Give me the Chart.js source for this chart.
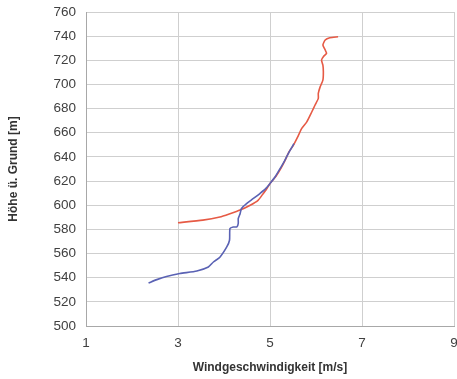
<!DOCTYPE html>
<html>
<head>
<meta charset="utf-8">
<script src="https://cdn.jsdelivr.net/npm/chart.js@4/dist/chart.umd.min.js"></script>
<style>
  html, body { margin: 0; padding: 0; background: #ffffff; }
  #wrap { width: 457px; height: 379px; }
</style>
</head>
<body>
<div id="wrap"><canvas id="c" width="457" height="379"></canvas></div>
<script>
// Wind speed profile: height above ground vs. wind speed, two soundings
const redSpeed  = [3.0, 3.54, 3.91, 4.13, 4.35, 4.57, 4.74, 4.84, 4.92, 5.0, 5.13, 5.24, 5.33, 5.41, 5.51, 5.62, 5.69, 5.80, 5.91, 5.98, 6.05, 6.05, 6.09, 6.15, 6.16, 6.15, 6.12, 6.16, 6.23, 6.2, 6.15, 6.2, 6.3, 6.48];
const redHeight = [585.5, 587.7, 590.3, 593, 596, 600, 604, 609, 613, 618, 624, 630.7, 637.3, 644, 649.8, 658, 663.6, 669, 677.4, 683, 688.5, 692.6, 698, 703.6, 710.5, 716, 720.2, 723, 725.8, 728.5, 732.6, 736.8, 738.7, 739.5];

const blueSpeed  = [2.36, 2.54, 2.75, 3.04, 3.41, 3.66, 3.77, 3.91, 4.06, 4.12, 4.13, 4.2, 4.28, 4.31, 4.31, 4.35, 4.38, 4.49, 4.64, 4.78, 4.9, 5.0, 5.12, 5.23, 5.32, 5.40, 5.49, 5.52];
const blueHeight = [535.6, 538.4, 541, 543.4, 545.6, 548.9, 553, 557, 565.5, 571, 580.7, 582, 582, 585, 589, 593, 597.3, 601.4, 605.6, 609.7, 613.5, 618, 624, 631, 637, 643, 649, 651];

const xTicks = [1, 3, 5, 7, 9];
const yMin = 500, yMax = 760, yStep = 20;

const xTitle = 'Windgeschwindigkeit [m/s]';
const yTitle = 'Höhe ü. Grund [m]';

function pairs(xs, ys) {
  return xs.map((x, i) => ({ x: x, y: ys[i] }));
}

const tickFont = { family: '"Liberation Sans", Arial, sans-serif', size: 13.5 };
const titleFont = { family: '"Liberation Sans", Arial, sans-serif', size: 12, weight: 'bold' };

new Chart(document.getElementById('c'), {
  type: 'scatter',
  data: {
    datasets: [
      {
        data: pairs(blueSpeed, blueHeight),
        showLine: true,
        borderColor: '#5a62b4',
        borderWidth: 1.6,
        pointRadius: 0,
        tension: 0.2
      },
      {
        data: pairs(redSpeed, redHeight),
        showLine: true,
        borderColor: '#e65a45',
        borderWidth: 1.6,
        pointRadius: 0,
        tension: 0.2
      }
    ]
  },
  options: {
    responsive: false,
    animation: false,
    devicePixelRatio: 1,
    layout: { padding: { top: 12, right: 3, left: 0, bottom: 0 } },
    plugins: { legend: { display: false }, tooltip: { enabled: false } },
    scales: {
      x: {
        type: 'linear',
        min: xTicks[0],
        max: xTicks[xTicks.length - 1],
        afterBuildTicks: (s) => { s.ticks = xTicks.map(v => ({ value: v })); },
        afterFit: (s) => { s.height = 53; s.paddingLeft = 0; s.paddingRight = 0; },
        ticks: { font: tickFont, color: '#404040', padding: 9, maxRotation: 0 },
        grid: { color: '#cfcfcf', lineWidth: 1, drawTicks: false },
        border: { color: '#a8a8a8', width: 1 },
        title: { display: true, text: xTitle, font: titleFont, color: '#333333', padding: { top: 0, bottom: 4 } }
      },
      y: {
        type: 'linear',
        min: yMin,
        max: yMax,
        ticks: { stepSize: yStep, font: tickFont, color: '#404040', padding: 10 },
        afterFit: (s) => { s.width = 86; s.paddingTop = 0; s.paddingBottom = 0; },
        grid: { color: '#cfcfcf', lineWidth: 1, drawTicks: false },
        border: { color: '#a8a8a8', width: 1 },
        title: { display: true, text: yTitle, font: titleFont, color: '#333333', padding: { top: 6, bottom: 0 } }
      }
    }
  }
});
</script>
</body>
</html>
